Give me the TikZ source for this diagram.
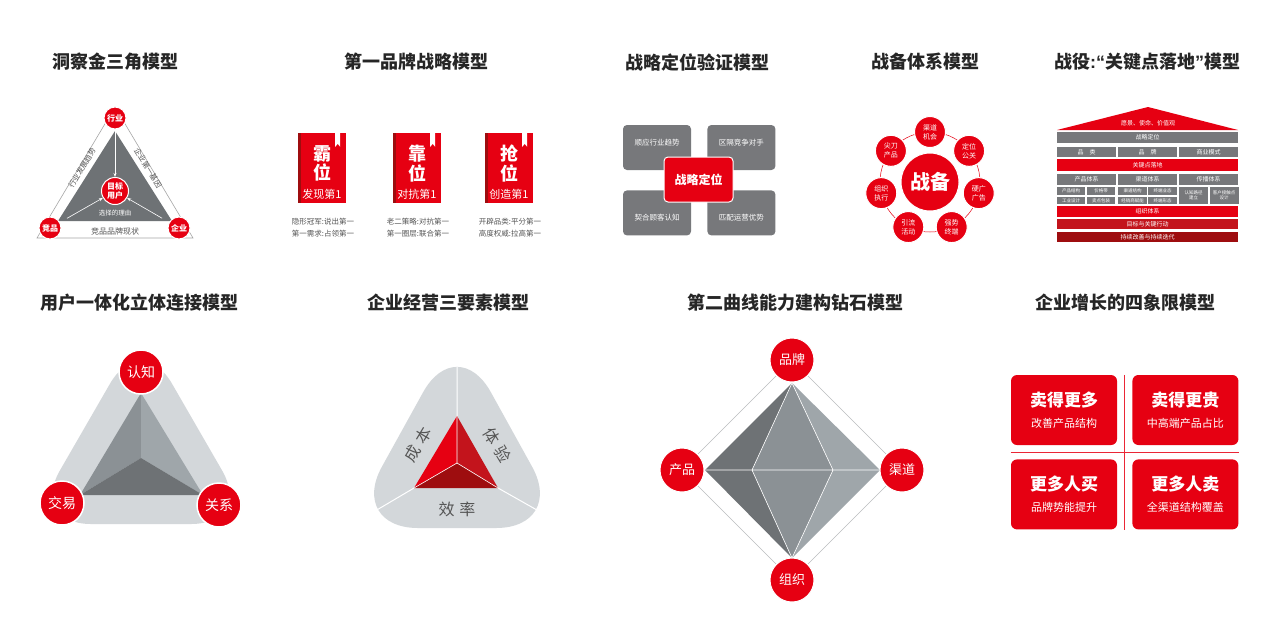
\documentclass[tikz,border=0pt]{standalone}
\usepackage{fontspec}
\setmainfont{Noto Sans CJK SC}
\newfontfamily\latinfont{Liberation Sans}
\usetikzlibrary{arrows.meta,positioning,calc}

\definecolor{brandred}{HTML}{E60012}
\definecolor{midred}{HTML}{C3141C}
\definecolor{deepred}{HTML}{9E0D0F}
\definecolor{boxgray}{HTML}{77787B}
\definecolor{palegray}{HTML}{D3D7DA}
\definecolor{facedark}{HTML}{6E7275}
\definecolor{facemid}{HTML}{8B9195}
\definecolor{facelight}{HTML}{9FA6AA}
\definecolor{txtgray}{HTML}{555555}
\newcommand{\fsz}[1]{\fontsize{#1}{\fpeval{1.2*(#1)}}\selectfont}

\begin{document}
\begin{tikzpicture}[x=1pt,y=-1pt,
  title/.style={font=\fsz{18}\bfseries,text=black!85},
  dot/.style={circle,fill=brandred,draw=white,line width=1pt,text=white,inner sep=0pt,minimum size=#1},
  note/.style={font=\fsz{#1},text=txtgray},
  book/.style={rectangle,fill=brandred,minimum width=48pt,minimum height=70pt,inner sep=0pt},
  quad/.style={rectangle,rounded corners=4pt,fill=boxgray,minimum width=68pt,minimum height=45pt,inner sep=0pt},
  hbar/.style={rectangle,fill=#1,text=white,font=\fsz{6},inner sep=0pt,minimum height=11pt},
  cell/.style={hbar=boxgray,font=\fsz{4.5},minimum width=28.5pt,minimum height=8pt,align=center},
  quadbox/.style={rectangle,rounded corners=6pt,fill=brandred,text=white,align=center,font=\fontsize{11}{21}\selectfont,minimum width=106pt,minimum height=70pt,inner sep=0pt},
  face/.style={draw=white,line width=0.6pt,line join=round},
  pointer/.style={white,line width=0.6pt,-{Stealth[length=4pt]}}
]
\fill[white] (0,0) rectangle (1279,625);
\useasboundingbox (0,0) rectangle (1279,625);

% titles
\node[title] (t1) at (115,62) {洞察金三角模型};
\node[title] (t2) at (416,62) {第一品牌战略模型};
\node[title] (t3) at (697,62) {战略定位验证模型};
\node[title] (t4) at (925,62) {战备体系模型};
\node[title] (t5) at (1147,62) {战役{\latinfont :“}关键点落地{\latinfont ”}模型};
\node[title] (t6) at (139,303) {用户一体化立体连接模型};
\node[title] (t7) at (448,303) {企业经营三要素模型};
\node[title] (t8) at (795,303) {第二曲线能力建构钻石模型};
\node[title] (t9) at (1125,303) {企业增长的四象限模型};

% golden triangle
\draw[gray!70,line width=0.6pt] (115,107) -- (37,238) -- (193,238) -- cycle;
\fill[facedark] (115,131) -- (58,221) -- (172,221) -- cycle;
\node[dot=22pt,font=\fsz{8}\bfseries] (hy) at (115,118) {行业};
\node[dot=22pt,font=\fsz{8}\bfseries] (jp) at (50,228) {竞品};
\node[dot=22pt,font=\fsz{8}\bfseries] (qy) at (179,228) {企业};
\node[dot=27pt,font=\fsz{8}\bfseries,align=center] (mb) at (115,191) {目标\\用户};
\node[font=\fsz{6.5},text=white] (ly) at (115,213) {选择的理由};
\node[note=7.5,rotate=59,inner sep=1pt] (l1) at (82,168) {行业发展趋势};
\node[note=7.5,rotate=-59,inner sep=1pt] (l2) at (148,168) {企业第一基因};
\node[note=8] (l3) at (115,231) {竞品品牌现状};
\draw[pointer] (hy) -- (mb);
\draw[pointer,shorten <=8pt] (jp) -- (mb);
\draw[pointer,shorten <=8pt] (qy) -- (mb);

% books
\foreach \bx/\ba/\bb/\bc/\bd [count=\i] in {
  322/霸/发现第1/隐形冠军:说出第一/第一需求:占领第一,
  417/靠/对抗第1/老二策略:对抗第一/第一圈层:联合第一,
  509/抢/创造第1/开辟品类:平分第一/高度权威:拉高第一}{
  \node[book] (bk\i) at (\bx,168) {};
  \fill[deepred] (bk\i.north west) rectangle ++(3,70);
  \fill[white] ([xshift=-11pt]bk\i.north east) -- ++(5,0) -- ++(0,14) -- ++(-2.5,-3) -- ++(-2.5,3) -- cycle;
  \node[text=white,font=\fontsize{18}{19.5}\selectfont\bfseries,align=center] (bw\i) at (\bx,163.5) {\ba\\位};
  \node[text=white,font=\fsz{11}] (bs\i) at (\bx,194) {\bb};
  \node[text=txtgray,font=\fontsize{7.5}{12}\selectfont,align=center] (bn\i) at (\bx+1,228) {\bc\\\bd};
}

% positioning check
\node[quad] (vq1) at (657,147.5) {};
\node[quad,right=16pt of vq1] (vq2) {};
\node[quad,below=20pt of vq1] (vq3) {};
\node[quad,below=20pt of vq2] (vq4) {};
\node[text=white,font=\fsz{7.5}] (vt1) at ([yshift=5pt]vq1.center) {顺应行业趋势};
\node[text=white,font=\fsz{7.5}] (vt2) at ([yshift=5pt]vq2.center) {区隔竞争对手};
\node[text=white,font=\fsz{7.5}] (vt3) at ([yshift=-4.5pt]vq3.center) {契合顾客认知};
\node[text=white,font=\fsz{7.5}] (vt4) at ([yshift=-4.5pt]vq4.center) {匹配运营优势};
\node[quad,fill=brandred,draw=white,line width=1pt,minimum width=69pt,text=white,font=\fsz{12}\bfseries] (vc) at (698.5,179.5) {战略定位};

% readiness ring
\coordinate (zc) at (930,182);
\draw[brandred,line width=0.5pt] (zc) circle[radius=50pt];
\node[dot=58pt,font=\fsz{20}\bfseries] (zb) at (zc) {战备};
\foreach \t [count=\i] in {渠道\\机会,定位\\公关,硬广\\广告,强势\\终端,引流\\活动,组织\\执行,尖刀\\产品}
  \node[dot=31pt,align=center,font=\fontsize{7}{9}\selectfont] (zs\i) at ($(zc)+({-90+(\i-1)*360/7}:50)$) {\t};

% house
\fill[brandred] (1148,107) -- (1238,130) -- (1057,130) -- cycle;
\node[text=white,font=\fsz{6}] (hroof) at (1148,123) {愿景、使命、价值观};
\node[hbar=boxgray,minimum width=181pt] (h1) at (1147.5,137.5) {战略定位};
\foreach \t/\x [count=\i] in {品\quad 类/1086.5,品\quad 牌/1147.5,商业模式/1208.5}
  \node[hbar=boxgray,minimum width=59pt,minimum height=10pt] (h2\i) at (\x,152) {\t};
\node[hbar=brandred,minimum width=181pt,minimum height=12pt] (h3) at (1147.5,165) {关键点落地};
\foreach \t/\x [count=\i] in {产品体系/1086.5,渠道体系/1147.5,传播体系/1208.5}
  \node[hbar=boxgray,minimum width=59pt] (h4\i) at (\x,179.5) {\t};
\foreach \t/\x [count=\i] in {产品结构/1071,价格带/1101,渠道结构/1132.5,终端业态/1162.5}
  \node[cell] (h5\i) at (\x,191) {\t};
\foreach \t/\x [count=\i] in {工业设计/1071,卖点包装/1101,经销商赋能/1132.5,终端形态/1162.5}
  \node[cell,minimum height=7.5pt] (h6\i) at (\x,200.5) {\t};
\foreach \t/\x [count=\i] in {认知路径\\建立/1193.5,客户接触点\\设计/1224}
  \node[cell,minimum width=29pt,minimum height=17pt] (h7\i) at (\x,195.5) {\t};
\node[hbar=brandred,minimum width=181pt] (h8) at (1147.5,211.5) {组织体系};
\node[hbar=midred,minimum width=181pt,minimum height=10pt] (h9) at (1147.5,224) {目标与关键行动};
\node[hbar=deepred,minimum width=181pt,minimum height=10pt] (h10) at (1147.5,237) {持续改善与持续迭代};

% connection pyramid
\fill[palegray,rounded corners=62pt] (141,330) -- (253,524) -- (29,524) -- cycle;
\coordinate (ua) at (141,393);
\coordinate (ub) at (80,495);
\coordinate (uc) at (203,495);
\coordinate (uo) at (141,458);
\fill[facemid] (ua) -- (ub) -- (uo) -- cycle;
\fill[facelight] (ua) -- (uc) -- (uo) -- cycle;
\fill[facedark] (ub) -- (uc) -- (uo) -- cycle;
\node[dot=44pt,line width=1.5pt,font=\fsz{14}] (rz) at (141,372) {认知};
\node[dot=44pt,line width=1.5pt,font=\fsz{14}] (jy) at (62,503) {交易};
\node[dot=44pt,line width=1.5pt,font=\fsz{14}] (gx) at (219,505) {关系};

% three elements
\fill[palegray,rounded corners=70pt] (457,331) -- (566,528) -- (348,528) -- cycle;
\coordinate (ea) at (457,416);
\coordinate (eb) at (414,488);
\coordinate (ec) at (498,488);
\coordinate (eo) at (457,463);
\coordinate (ex1) at (457,367);
\coordinate (ex2) at (370,514);
\coordinate (ex3) at (544,514);
\draw[white,line width=1pt] (ea) -- (ex1) (eb) -- (ex2) (ec) -- (ex3);
\fill[brandred] (ea) -- (eb) -- (eo) -- cycle;
\fill[midred] (ea) -- (ec) -- (eo) -- cycle;
\fill[deepred] (eb) -- (ec) -- (eo) -- cycle;
\draw[white,line width=0.6pt] (eo) -- (ea) (eo) -- (eb) (eo) -- (ec);
\node[text=txtgray,font=\fsz{16},rotate=59] (cb) at (418,445) {成\hspace{5pt}本};
\node[text=txtgray,font=\fsz{16},rotate=-59] (ty) at (497,445) {体\hspace{5pt}验};
\node[text=txtgray,font=\fsz{16}] (xl) at (457,509) {效\hspace{5pt}率};

% diamond
\coordinate (dp) at (792,360);
\coordinate (dl) at (682,470);
\coordinate (dr) at (902,470);
\coordinate (db) at (792,580);
\draw[palegray!70!gray,line width=0.6pt] (dp) -- (dl) -- (db) -- (dr) -- cycle;
\coordinate (g1) at (792,383);
\coordinate (g2) at (705,470);
\coordinate (g3) at (752,470);
\coordinate (g4) at (833,470);
\coordinate (g5) at (880,470);
\coordinate (g6) at (792,558);
\fill[facedark] (g1) -- (g2) -- (g3) -- cycle;
\fill[facemid] (g1) -- (g3) -- (g4) -- cycle;
\fill[facelight] (g1) -- (g4) -- (g5) -- cycle;
\fill[facedark] (g6) -- (g2) -- (g3) -- cycle;
\fill[facemid] (g6) -- (g3) -- (g4) -- cycle;
\fill[facelight] (g6) -- (g4) -- (g5) -- cycle;
\draw[face] (g2) -- (g5) (g1) -- (g3) -- (g6) -- (g4) -- cycle;
\node[dot=44pt,font=\fsz{13}] (pp) at (dp) {品牌};
\node[dot=44pt,font=\fsz{13}] (cp) at (dl) {产品};
\node[dot=44pt,font=\fsz{13}] (qd) at (dr) {渠道};
\node[dot=44pt,font=\fsz{13}] (zz) at (db) {组织};

% quadrants
\node[quadbox] (q1) at (1064,410) {{\fsz{17}\bfseries 卖得更多}\\改善产品结构};
\node[quadbox,right=15pt of q1] (q2) {{\fsz{17}\bfseries 卖得更贵}\\中高端产品占比};
\node[quadbox,below=14pt of q1] (q3) {{\fsz{17}\bfseries 更多人买}\\品牌势能提升};
\node[quadbox,below=14pt of q2] (q4) {{\fsz{17}\bfseries 更多人卖}\\全渠道结构覆盖};
\draw[brandred!85,line width=0.8pt] ($(q1.north east)!0.5!(q2.north west)$) -- ($(q3.south east)!0.5!(q4.south west)$);
\draw[brandred!85,line width=0.8pt] ($(q1.south west)!0.5!(q3.north west)$) -- ($(q2.south east)!0.5!(q4.north east)$);
\end{tikzpicture}
\end{document}
